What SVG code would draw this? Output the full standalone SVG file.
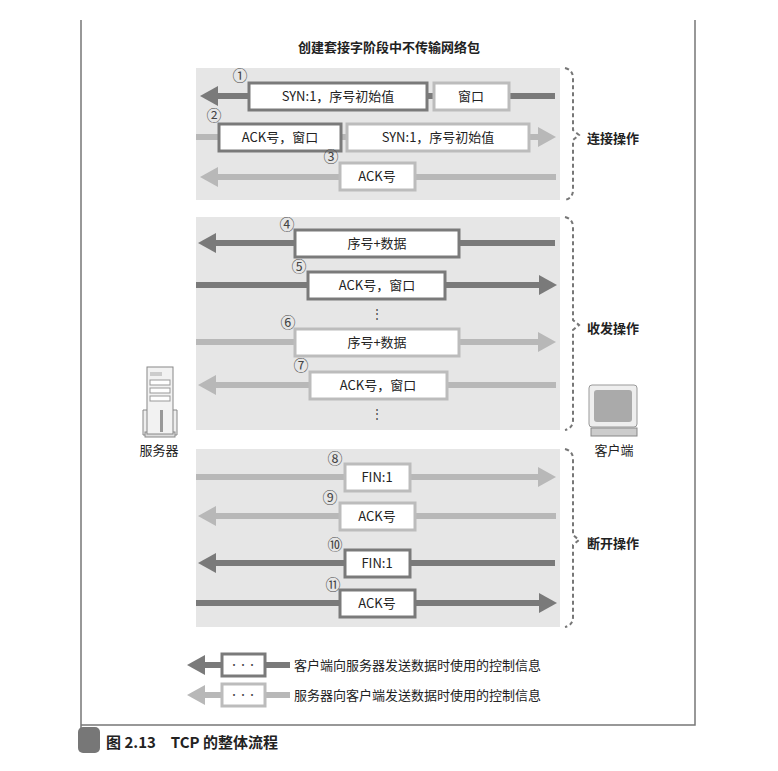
<svg xmlns="http://www.w3.org/2000/svg" width="778" height="771" viewBox="0 0 778 771">
<style>
text{font-family:"Noto Sans CJK SC","Liberation Sans",sans-serif;fill:#222}
.t{font-size:13px;text-anchor:middle}
.n{font-size:15px;fill:#444;text-anchor:middle}
.d{font-size:12px;fill:#444;text-anchor:middle}
.p{fill:#e6e6e6}
.dl{stroke:#7a7a7a;stroke-width:6;fill:none}
.ll{stroke:#b8b8b8;stroke-width:6;fill:none}
.db{fill:#fff;stroke:#7a7a7a;stroke-width:3}
.lb{fill:#fff;stroke:#bcbcbc;stroke-width:3}
.dh{fill:#7a7a7a}.lh{fill:#b8b8b8}
.br{stroke:#777;stroke-width:2;stroke-dasharray:4 3;fill:none}
</style>
<rect width="778" height="771" fill="#fff"/>
<path d="M81 20V745M81 725H695V20" stroke="#777" stroke-width="1.5" fill="none"/>
<rect x="78" y="727" width="22" height="26" rx="5" fill="#777"/>
<text x="106" y="748" style="font-size:15px;font-weight:bold">图 2.13　TCP 的整体流程</text>
<text x="389" y="52" class="t" style="font-weight:bold">创建套接字阶段中不传输网络包</text>
<rect class="p" x="196" y="68" width="364" height="132"/>
<rect class="p" x="196" y="217" width="364" height="213"/>
<rect class="p" x="196" y="449" width="364" height="178"/>
<g id="connectors">
<path class="dl" d="M555 96H215"/><path class="dh" d="M200 96l18-10v20z"/>
<path class="ll" d="M196 137H540"/><path class="lh" d="M556 137l-18-10v20z"/>
<path class="ll" d="M556 177H215"/><path class="lh" d="M200 177l18-10v20z"/>
<path class="dl" d="M555 243H215"/><path class="dh" d="M198 243l18-10v20z"/>
<path class="dl" d="M196 285H540"/><path class="dh" d="M557 285l-18-10v20z"/>
<path class="ll" d="M196 342H540"/><path class="lh" d="M556 342l-18-10v20z"/>
<path class="ll" d="M556 385H215"/><path class="lh" d="M198 385l18-10v20z"/>
<path class="ll" d="M196 477H540"/><path class="lh" d="M556 477l-18-10v20z"/>
<path class="ll" d="M556 516H215"/><path class="lh" d="M198 516l18-10v20z"/>
<path class="dl" d="M555 563H215"/><path class="dh" d="M198 563l18-10v20z"/>
<path class="dl" d="M196 603H540"/><path class="dh" d="M557 603l-18-10v20z"/>
</g>
<g id="m1"><text class="n" x="240" y="81">①</text><rect class="db" x="249" y="83" width="178" height="27"/><text class="t" x="338" y="101">SYN:1，序号初始值</text><rect class="lb" x="434" y="83" width="75" height="27"/><text class="t" x="471" y="101">窗口</text></g>
<g id="m2"><text class="n" x="214" y="121">②</text><rect class="db" x="219" y="124" width="122" height="27"/><text class="t" x="280" y="142">ACK号，窗口</text><rect class="lb" x="347" y="124" width="182" height="27"/><text class="t" x="438" y="142">SYN:1，序号初始值</text></g>
<g id="m3"><text class="n" x="331" y="162">③</text><rect class="lb" x="340" y="163" width="75" height="27"/><text class="t" x="377" y="181">ACK号</text></g>
<g id="m4"><text class="n" x="287" y="230">④</text><rect class="db" x="295" y="230" width="164" height="27"/><text class="t" x="377" y="248">序号+数据</text></g>
<g id="m5"><text class="n" x="299" y="272">⑤</text><rect class="db" x="308" y="272" width="137" height="27"/><text class="t" x="377" y="290">ACK号，窗口</text></g>
<text class="d" x="377" y="318">⋮</text>
<g id="m6"><text class="n" x="288" y="328">⑥</text><rect class="lb" x="295" y="329" width="164" height="27"/><text class="t" x="377" y="347">序号+数据</text></g>
<g id="m7"><text class="n" x="301" y="371">⑦</text><rect class="lb" x="310" y="372" width="137" height="27"/><text class="t" x="378" y="390">ACK号，窗口</text></g>
<text class="d" x="377" y="418">⋮</text>
<g id="m8"><text class="n" x="335" y="464">⑧</text><rect class="lb" x="345" y="464" width="65" height="27"/><text class="t" x="377" y="482">FIN:1</text></g>
<g id="m9"><text class="n" x="330" y="503">⑨</text><rect class="lb" x="340" y="503" width="75" height="27"/><text class="t" x="377" y="521">ACK号</text></g>
<g id="m10"><text class="n" x="335" y="550">⑩</text><rect class="db" x="345" y="550" width="65" height="27"/><text class="t" x="377" y="568">FIN:1</text></g>
<g id="m11"><text class="n" x="333" y="590">⑪</text><rect class="db" x="340" y="590" width="75" height="27"/><text class="t" x="377" y="608">ACK号</text></g>
<g id="b1"><path class="br" d="M565 68q8 2 8 10V130l6 5-6 5V190q0 8-8 10"/><text x="587" y="143" style="font-size:13px;font-weight:bold">连接操作</text></g>
<g id="b2"><path class="br" d="M565 217q8 2 8 10V320l6 5-6 5V420q0 8-8 10"/><text x="587" y="333" style="font-size:13px;font-weight:bold">收发操作</text></g>
<g id="b3"><path class="br" d="M565 449q8 2 8 10V535l6 5-6 5V617q0 8-8 10"/><text x="587" y="548" style="font-size:13px;font-weight:bold">断开操作</text></g>
<g id="server">
<path d="M143 410h5v25h-5zM172 410h5v25h-5z" fill="#eee" stroke="#888"/>
<rect x="145" y="432" width="30" height="5" fill="#ddd" stroke="#888"/>
<rect x="147" y="367" width="26" height="67" fill="#f2f2f2" stroke="#888"/>
<rect x="150" y="372" width="12" height="4" fill="#ccc"/>
<rect x="150" y="380" width="20" height="5" fill="#fff" stroke="#999"/>
<rect x="150" y="388" width="20" height="5" fill="#fff" stroke="#999"/>
<rect x="150" y="396" width="20" height="5" fill="#fff" stroke="#999"/>
<rect x="160" y="410" width="3" height="22" fill="#999"/>
<text x="159" y="455" class="t">服务器</text></g>
<g id="client">
<rect x="589" y="385" width="48" height="42" rx="3" fill="#eee" stroke="#999"/>
<rect x="594" y="390" width="38" height="32" rx="3" fill="#aaa"/>
<rect x="591" y="428" width="46" height="8" fill="#ccc" stroke="#888"/>
<text x="614" y="455" class="t">客户端</text></g>
<g id="legend">
<path class="dl" d="M200 665H290"/><path class="dh" d="M187 665l18-10v20z"/><rect class="db" x="222" y="654" width="43" height="22"/><text class="d" x="243" y="668" style="font-size:9px">···</text>
<text x="294" y="670" style="font-size:13px">客户端向服务器发送数据时使用的控制信息</text>
<path class="ll" d="M200 695H290"/><path class="lh" d="M187 695l18-10v20z"/><rect class="lb" x="222" y="684" width="43" height="22"/><text class="d" x="243" y="698" style="font-size:9px">···</text>
<text x="294" y="700" style="font-size:13px">服务器向客户端发送数据时使用的控制信息</text>
</g>
</svg>
